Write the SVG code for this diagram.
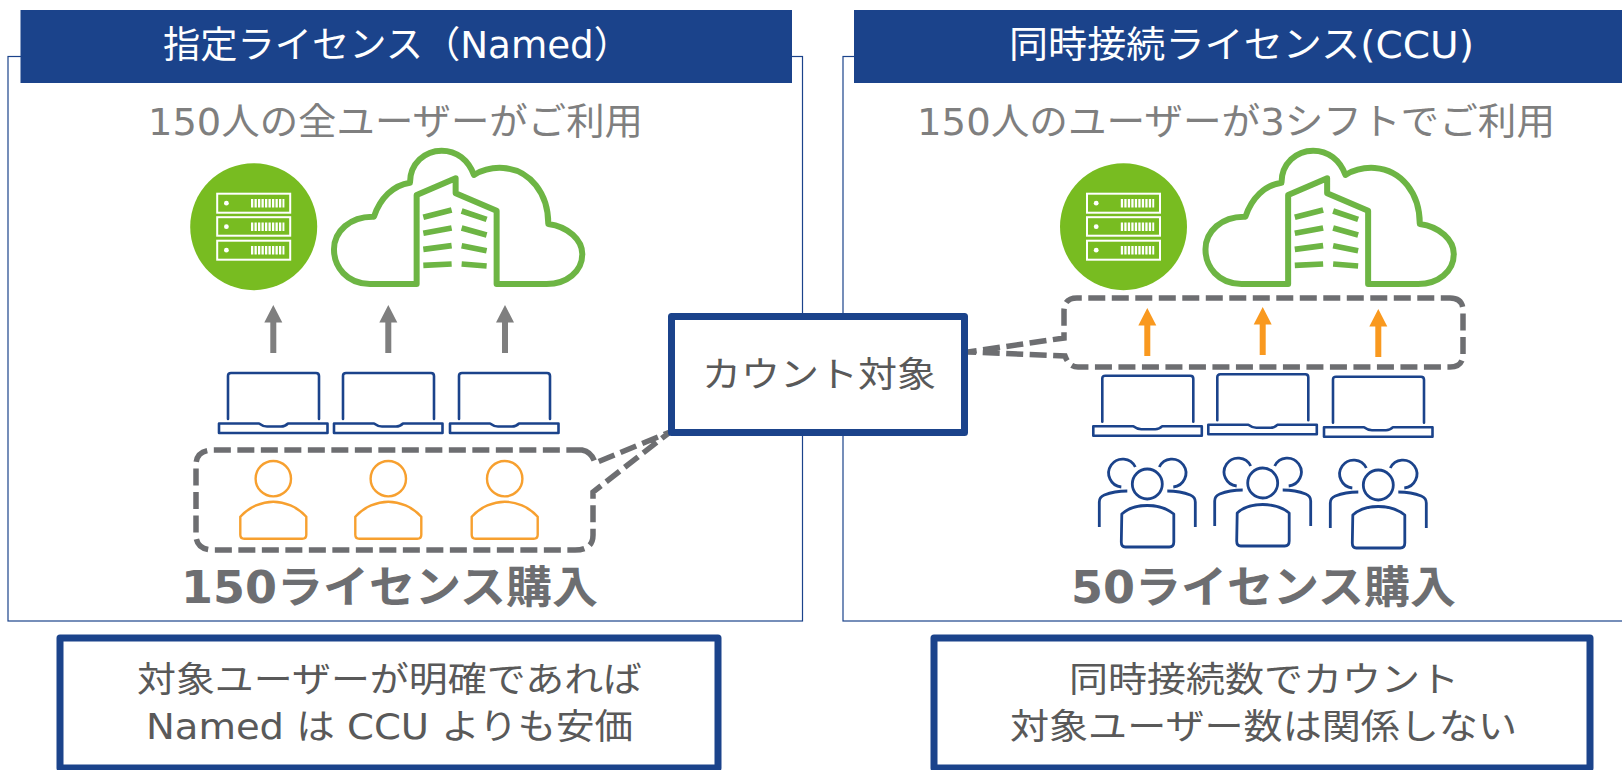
<svg xmlns="http://www.w3.org/2000/svg" width="1622" height="770" viewBox="0 0 1622 770">
<style>
text{font-family:"DejaVu Sans","Noto Sans CJK JP",sans-serif;text-anchor:start}
.panel{fill:#fff;stroke:#1B438B;stroke-width:1.2}
.head{fill:#1B438B}
.ht{fill:#fff;font-size:37px}
.sub{fill:#7F7F7F;font-size:37px}
.big{fill:#6D6E71;font-size:44px;font-weight:700}
.box{fill:#fff;stroke:#1B438B;stroke-width:7;stroke-linejoin:round}
.bt{fill:#595959;font-size:35px}
.dash{fill:none;stroke:#6D6E71;stroke-width:5.500;stroke-dasharray:17 6.500}
.lap{fill:none;stroke:#1B438B;stroke-width:2.600;stroke-linejoin:round;stroke-linecap:round}
.per{fill:none;stroke:#F7A02F;stroke-width:2.400;stroke-linejoin:round}
.grp{fill:none;stroke:#1B438B;stroke-width:2.800;stroke-linejoin:round}
.ga{fill:#7F7F7F}.oa{fill:#F9991F}
.cl{fill:#fff;stroke:#6DB544;stroke-width:18;stroke-linejoin:round}
.fl{fill:none;stroke:#6DB544;stroke-width:17}
</style>
<defs>
<g id="server">
<circle cx="0" cy="0" r="63.500" fill="#78BC21"/>
<g fill="none" stroke="#fff" stroke-width="2">
<rect x="-36.500" y="-33" width="73" height="19"/><rect x="-36.500" y="-9.500" width="73" height="18.500"/><rect x="-36.500" y="14" width="73" height="19"/>
</g>
<path d="M-2.700-23.500H30.700M-2.700 0H30.700M-2.700 23.500H30.700" fill="none" stroke="#fff" stroke-width="8.500" stroke-dasharray="2.300 1.200"/>
<circle cx="-27.300" cy="-23.500" r="2.400" fill="#fff"/><circle cx="-27.300" cy="0" r="2.400" fill="#fff"/><circle cx="-27.300" cy="23.500" r="2.400" fill="#fff"/>
</g>
<g id="cloud" transform="translate(150 130) scale(.3333)">
<path class="cl" d="M800 462H660C590 462 552 410 552 358C552 305 600 258 672 260C690 205 730 165 780 158C780 100 825 62 875 62C920 62 955 90 972 135C1000 118 1030 112 1060 114C1140 120 1195 190 1195 282C1255 290 1297 330 1297 372C1297 425 1250 462 1190 462H1040V242L917 190V145L800 195Z"/>
<path class="fl" d="M820 262L905 240M820 310L905 294M820 358L905 347M820 406L905 402M935 243L1010 268M935 294L1010 315M935 347L1010 362M935 402L1010 408"/>
</g>
<g id="laptop" class="lap">
<path d="M9 46V3Q9 0 12 0H97Q100 0 100 3V46"/>
<path d="M0 50.500H40Q44 53.500 48 53.500H62Q66 53.500 69 50.500H108.500V60H0Z"/>
</g>
<g id="person" class="per">
<circle cx="0" cy="0" r="17.700"/>
<path d="M-33 38C-24 28-11 23 0 23C11 23 24 28 33 38V56Q33 60 29 60H-29Q-33 60-33 56Z"/>
</g>
<g id="group" class="grp">
<circle cx="0" cy="0" r="15"/>
<path d="M-25.500 30C-19 24-9 21.500 0 21.500C9 21.500 19 24 26.500 30V58Q26.500 63 22 63H-22Q-26 63-26 58Z"/>
<path d="M-12 -17A14 14 0 1 0 -26 3M12 -17A14 14 0 1 1 26 3"/>
<path d="M-48 43V18Q-48 13-43 11Q-33 7-20 7M48 43V18Q48 13 43 11Q33 7 20 7"/>
</g>
<path id="arrow" d="M-3 48V17.500H-9L0 0L9 17.500H3V48Z"/>
</defs>

<g id="panel-left"><rect class="panel" x="8" y="56.500" width="794.500" height="564.500"/></g>
<g id="panel-right"><rect class="panel" x="843" y="56.500" width="790" height="564.500"/></g>
<g id="header-left"><rect class="head" x="20.500" y="10" width="771.500" height="73"/><text class="ht" x="163" y="58" textLength="468" lengthAdjust="spacingAndGlyphs">指定ライセンス（Named）</text></g>
<g id="header-right"><rect class="head" x="854" y="10" width="768" height="73"/><text class="ht" x="1009" y="58" textLength="465" lengthAdjust="spacingAndGlyphs">同時接続ライセンス(CCU)</text></g>
<text class="sub" x="148" y="135" textLength="495" lengthAdjust="spacingAndGlyphs">150人の全ユーザーがご利用</text>
<text class="sub" x="917" y="135" textLength="638" lengthAdjust="spacingAndGlyphs">150人のユーザーが3シフトでご利用</text>

<g id="server-left"><use href="#server" x="253.700" y="226.700"/></g>
<g id="cloud-left"><use href="#cloud"/></g>
<g id="server-right"><use href="#server" x="1123.500" y="226.700"/></g>
<g id="cloud-right"><use href="#cloud" x="871.500" y="0"/></g>

<g id="laptops-left"><use href="#laptop" x="219" y="373"/><use href="#laptop" x="334" y="373"/><use href="#laptop" x="450" y="373"/></g>
<g id="laptops-right"><use href="#laptop" x="1093.300" y="375.700"/><use href="#laptop" x="1208.300" y="374.300"/><use href="#laptop" x="1324" y="376.700"/></g>
<g id="persons"><use href="#person" x="273.300" y="478.700"/><use href="#person" x="388.300" y="478.700"/><use href="#person" x="504.700" y="478.700"/></g>
<g id="groups"><use href="#group" x="1147.300" y="484"/><use href="#group" x="1262.700" y="483"/><use href="#group" x="1378.300" y="485"/></g>

<g id="connectors">
<use class="ga" href="#arrow" x="273.300" y="305"/><use class="ga" href="#arrow" x="388.300" y="305"/><use class="ga" href="#arrow" x="505" y="305"/>
<path class="dash" d="M582 450Q592 452 595 463L670 432L593 492V535Q593 550 575 550H214Q196 550 196 535V465Q196 450 214 450Z"/>
<path class="dash" d="M1450 298Q1463 298 1463 311V354Q1463 367 1450 367H1078Q1069 367 1065 356L968 352L1064 338V311Q1064 298 1077 298Z"/>
<use class="oa" href="#arrow" x="1147.300" y="308"/><use class="oa" href="#arrow" x="1262.700" y="307"/><use class="oa" href="#arrow" x="1378.300" y="309"/>
</g>
<g id="label-count"><rect class="box" x="671.500" y="316.500" width="293" height="116"/><text class="bt" x="702" y="387" textLength="234" lengthAdjust="spacingAndGlyphs">カウント対象</text></g>
<text class="big" x="181" y="603" textLength="417" lengthAdjust="spacingAndGlyphs">150ライセンス購入</text>
<text class="big" x="1071" y="603" textLength="385" lengthAdjust="spacingAndGlyphs">50ライセンス購入</text>
<g id="note-left"><rect class="box" x="60" y="638" width="658" height="130"/><text class="bt" x="137" y="692" textLength="505" lengthAdjust="spacingAndGlyphs">対象ユーザーが明確であれば</text><text class="bt" x="146" y="739" textLength="487" lengthAdjust="spacingAndGlyphs">Named は CCU よりも安価</text></g>
<g id="note-right"><rect class="box" x="934" y="638" width="656" height="130"/><text class="bt" x="1069" y="692" textLength="390" lengthAdjust="spacingAndGlyphs">同時接続数でカウント</text><text class="bt" x="1010" y="739" textLength="507" lengthAdjust="spacingAndGlyphs">対象ユーザー数は関係しない</text></g>
</svg>
